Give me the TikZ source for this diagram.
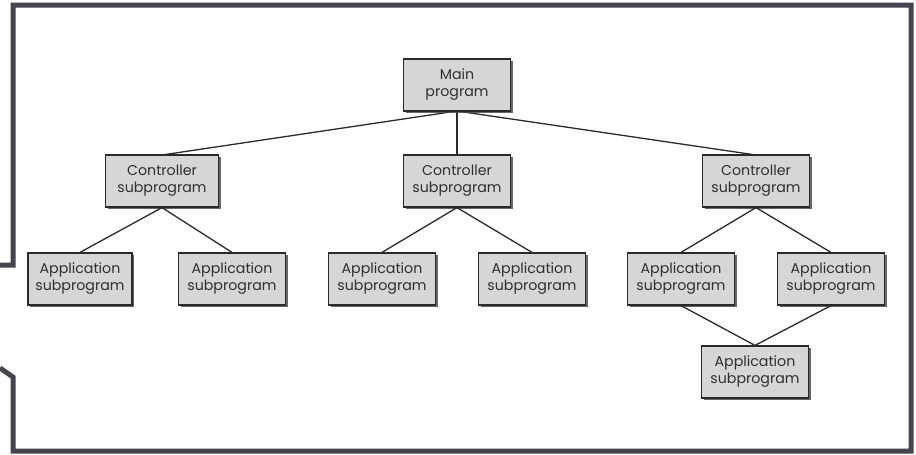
\documentclass[tikz,border=0pt]{standalone}
\usepackage{fontspec}
\setmainfont{Poppins}
\usetikzlibrary{shadows}
\definecolor{framegray}{HTML}{46444F}
\definecolor{boxfill}{HTML}{D6D6D6}
\definecolor{boxline}{HTML}{2A2A2A}
\definecolor{inkgray}{HTML}{303030}
\tikzset{
  prog/.style={draw=boxline, line width=1.2pt, fill=boxfill,
    minimum width=107pt, minimum height=52pt, inner sep=0pt,
    align=center, text=inkgray,
    font=\fontsize{14.2}{17}\selectfont,
    drop shadow={shadow xshift=2.2pt, shadow yshift=-2.2pt,
      fill=black!70, opacity=0.85}},
  link/.style={draw=boxline, line width=1.3pt},
  border/.style={draw=framegray, line width=5pt, line join=miter}
}
\begin{document}
\begin{tikzpicture}[x=1pt,y=-1pt]
  \useasboundingbox (0,0) rectangle (916,455);

  % outer frame with a gap on the left side
  \draw[border] (0,265) -- (13,265) -- (13,5) -- (911,5) -- (911,451)
    -- (13,451) -- (13,377) -- (0,368);

  % connectors, drawn first so the boxes sit on top
  \coordinate (mb) at (457,111);
  \draw[link] (mb) -- (162,155) coordinate (c1t);
  \draw[link] (mb) -- (457,155) coordinate (c2t);
  \draw[link] (mb) -- (756,155) coordinate (c3t);

  % main program
  \node[prog] (main) at (457,85) {Main\\program};

  % controller level
  \node[prog, minimum width=113pt] (c1) at (162,181) {Controller\\subprogram};
  \node[prog] (c2) at (457,181) {Controller\\subprogram};
  \node[prog] (c3) at (756,181) {Controller\\subprogram};

  % application level
  \node[prog, minimum width=104pt] (a1) at (80,279) {Application\\subprogram};
  \node[prog] (a2) at (232,279) {Application\\subprogram};
  \node[prog] (a3) at (382,279) {Application\\subprogram};
  \node[prog] (a4) at (532,279) {Application\\subprogram};
  \node[prog] (a5) at (681,279) {Application\\subprogram};
  \node[prog] (a6) at (831,279) {Application\\subprogram};
  \node[prog] (a7) at (755,372) {Application\\subprogram};

  % tree links
  \draw[link] (c1.south) -- (a1.north);
  \draw[link] (c1.south) -- (a2.north);
  \draw[link] (c2.south) -- (a3.north);
  \draw[link] (c2.south) -- (a4.north);
  \draw[link] (c3.south) -- (a5.north);
  \draw[link] (c3.south) -- (a6.north);
  \draw[link] (a5.south) -- (a7.north);
  \draw[link] (a6.south) -- (a7.north);
\end{tikzpicture}
\end{document}
